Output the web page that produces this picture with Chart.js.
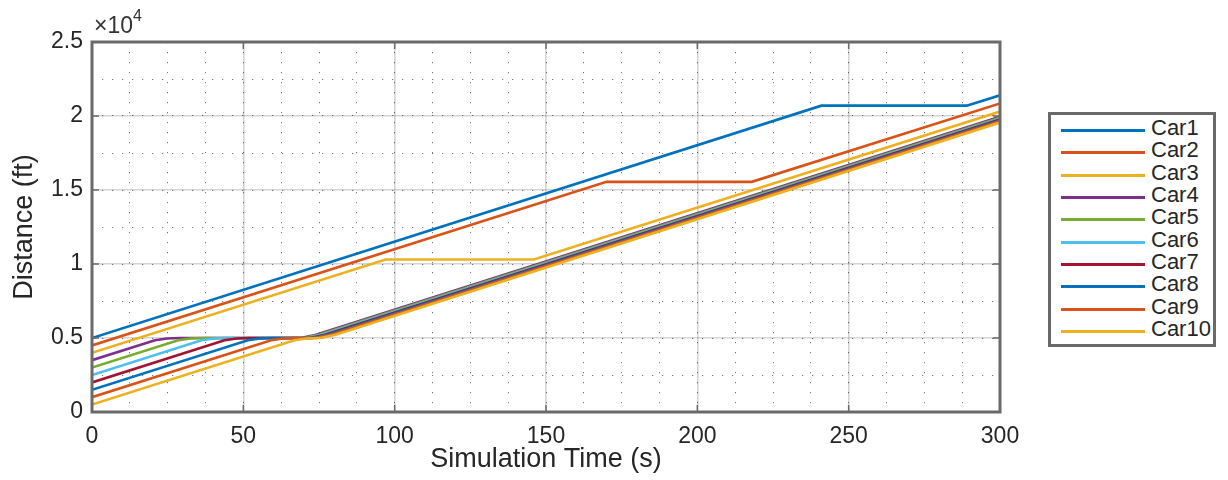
<!DOCTYPE html>
<html>
<head>
<meta charset="utf-8">
<script src="https://cdn.jsdelivr.net/npm/chart.js@4.4.1/dist/chart.umd.min.js"></script>
<style>
  html, body { margin: 0; padding: 0; background: #fff; }
  #wrap { position: relative; width: 1228px; height: 480px; font-family: 'Liberation Sans', Arial, Helvetica, sans-serif; color: #262626; }
  #c { position: absolute; left: 0; top: 0; }
  #exp { position: absolute; left: 94px; top: 10px; font-size: 23px; color: #333; white-space: nowrap; }
  #exp sup { font-size: 16px; position: relative; top: -3px; }
  #legend { position: absolute; left: 1048px; top: 112px; width: 162px; height: 229px; border: 3px solid #6a6a6a; background: #fff; }
  .row { position: absolute; left: 0; height: 22px; width: 162px; }
  .swatch { position: absolute; left: 10px; width: 84px; height: 3px; top: 12px; }
  .lab { position: absolute; left: 100px; top: 0px; font-size: 22px; line-height: 22px; color: #262626; }
</style>
</head>
<body>
<div id="wrap">
  <canvas id="c" width="1228" height="480"></canvas>
  <div id="exp">×10<sup>4</sup></div>
  <div id="legend"></div>
</div>
<script>
// ---------------- data ----------------
const carLabels = ['Car1','Car2','Car3','Car4','Car5','Car6','Car7','Car8','Car9','Car10'];
const carColors = ['#0072BD','#D95319','#EDB120','#7E2F8E','#77AC30','#4DBEEE','#A2142F','#0072BD','#D95319','#EDB120'];

const car1T  = [0, 241, 289, 300];
const car1D  = [5000, 20700, 20700, 21400];
const car2T  = [0, 170, 218, 300];
const car2D  = [4500, 15550, 15550, 20850];
const car3T  = [0, 97, 146, 300];
const car3D  = [4000, 10300, 10300, 20300];
const car4T  = [0, 20.8, 24.8, 28.8, 69, 74, 300];
const car4D  = [3500, 4850, 4970, 5000, 5000, 5220, 19950];
const car5T  = [0, 28.5, 32.5, 36.5, 70, 75, 300];
const car5D  = [3000, 4850, 4970, 5000, 5000, 5220, 19880];
const car6T  = [0, 36.2, 40.2, 44.2, 71, 76, 300];
const car6D  = [2500, 4850, 4970, 5000, 5000, 5220, 19820];
const car7T  = [0, 43.8, 47.8, 51.8, 72, 77, 300];
const car7D  = [2000, 4850, 4970, 5000, 5000, 5220, 19760];
const car8T  = [0, 51.5, 55.5, 59.5, 73, 78, 300];
const car8D  = [1500, 4850, 4970, 5000, 5000, 5220, 19700];
const car9T  = [0, 59.2, 63.2, 67.2, 74, 79, 300];
const car9D  = [1000, 4850, 4970, 5000, 5000, 5220, 19640];
const car10T = [0, 66.9, 70.9, 74.9, 75.5, 80.5, 300];
const car10D = [500, 4850, 4970, 5000, 5000, 5220, 19560];

const xTicks = [0, 50, 100, 150, 200, 250, 300];
const yTicks = [0, 5000, 10000, 15000, 20000, 25000];
const yTickLabels = ['0', '0.5', '1', '1.5', '2', '2.5'];

const allT = [car1T, car2T, car3T, car4T, car5T, car6T, car7T, car8T, car9T, car10T];
const allD = [car1D, car2D, car3D, car4D, car5D, car6D, car7D, car8D, car9D, car10D];

// ---------------- chart ----------------
const FONT = "'Liberation Sans', Arial, Helvetica, sans-serif";
const TXT = '#262626';
const FRAME = '#6a6a6a';

const datasets = carLabels.map((lab, i) => ({
  label: lab,
  data: allT[i].map((t, j) => ({ x: t, y: allD[i][j] })),
  borderColor: carColors[i],
  backgroundColor: carColors[i],
  borderWidth: 2.6,
  pointRadius: 0,
  tension: 0,
  fill: false,
  order: carLabels.length - i
}));

const framePlugin = {
  id: 'frame',
  afterDatasetsDraw(chart) {
    const { ctx, chartArea: a, scales } = chart;
    ctx.save();
    ctx.strokeStyle = FRAME;
    ctx.lineWidth = 1.5;
    const tl = 7;
    xTicks.forEach(v => {
      const px = scales.x.getPixelForValue(v);
      ctx.beginPath();
      ctx.moveTo(px, a.bottom); ctx.lineTo(px, a.bottom - tl);
      ctx.moveTo(px, a.top); ctx.lineTo(px, a.top + tl);
      ctx.stroke();
    });
    yTicks.forEach(v => {
      const py = scales.y.getPixelForValue(v);
      ctx.beginPath();
      ctx.moveTo(a.left, py); ctx.lineTo(a.left + tl, py);
      ctx.moveTo(a.right, py); ctx.lineTo(a.right - tl, py);
      ctx.stroke();
    });
    ctx.lineWidth = 3;
    ctx.strokeRect(a.left, a.top, a.right - a.left, a.bottom - a.top);
    ctx.restore();
  }
};

new Chart(document.getElementById('c'), {
  type: 'line',
  data: { datasets },
  options: {
    responsive: false,
    devicePixelRatio: 1,
    animation: false,
    layout: { padding: { top: 42, right: 228, left: 0, bottom: 0 } },
    plugins: { legend: { display: false }, tooltip: { enabled: false } },
    scales: {
      xMinor: {
        type: 'linear', position: 'top', min: 0, max: 300,
        ticks: { display: false, stepSize: 12.5 },
        grid: { color: 'rgba(60,60,60,0.7)', lineWidth: 1, drawTicks: false },
        border: { display: false, dash: [1.2, 8.8] },
        afterFit(s) { s.height = 0; }
      },
      yMinor: {
        type: 'linear', position: 'right', min: 0, max: 25000,
        ticks: { display: false, stepSize: 2500 },
        grid: { color: 'rgba(60,60,60,0.7)', lineWidth: 1, drawTicks: false },
        border: { display: false, dash: [1.2, 8.8] },
        afterFit(s) { s.width = 0; }
      },
      x: {
        type: 'linear', position: 'bottom', min: 0, max: 300,
        afterBuildTicks(s) { s.ticks = xTicks.map(v => ({ value: v })); },
        ticks: { color: TXT, font: { family: FONT, size: 23 }, padding: 11, maxRotation: 0 },
        grid: { color: 'rgba(0,0,0,0.17)', lineWidth: 1.6, drawTicks: false },
        border: { display: false },
        title: { display: true, text: 'Simulation Time (s)', color: TXT, font: { family: FONT, size: 27 }, padding: { top: 0, bottom: 4 } },
        afterFit(s) { s.height = 68; }
      },
      y: {
        type: 'linear', position: 'left', min: 0, max: 25000,
        afterBuildTicks(s) { s.ticks = yTicks.map(v => ({ value: v })); },
        ticks: {
          color: TXT, font: { family: FONT, size: 23 }, padding: 9,
          callback: (v) => { const k = yTicks.indexOf(v); return k >= 0 ? yTickLabels[k] : ''; }
        },
        grid: { color: 'rgba(0,0,0,0.17)', lineWidth: 1.6, drawTicks: false },
        border: { display: false },
        title: { display: true, text: 'Distance (ft)', color: TXT, font: { family: FONT, size: 27 }, padding: { top: 8, bottom: 0 } },
        afterFit(s) { s.width = 92; }
      }
    }
  },
  plugins: [framePlugin]
});

// ---------------- legend ----------------
const leg = document.getElementById('legend');
carLabels.forEach((lab, i) => {
  const row = document.createElement('div');
  row.className = 'row';
  row.style.top = (2 + i * 22.35) + 'px';
  const sw = document.createElement('div');
  sw.className = 'swatch';
  sw.style.background = carColors[i];
  const tx = document.createElement('div');
  tx.className = 'lab';
  tx.textContent = lab;
  row.appendChild(sw); row.appendChild(tx);
  leg.appendChild(row);
});
</script>
</body>
</html>
